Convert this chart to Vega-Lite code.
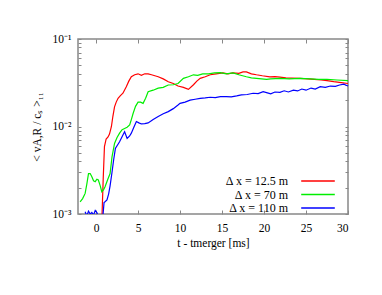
{
  "$schema": "https://vega.github.io/schema/vega-lite/v6.json",
  "autosize": "none",
  "width": 270,
  "height": 175,
  "padding": {"left": 78, "top": 39, "right": 34, "bottom": 81},
  "background": "white",
  "config": {
    "font": "Liberation Serif",
    "view": {"stroke": "#888888", "strokeWidth": 1.5},
    "axis": {"domain": false, "grid": false, "tickColor": "#888888", "labelFont": "serif", "titleFont": "serif", "labelFontSize": 11.5, "titleFontSize": 11.5, "titleFontWeight": "normal", "labelColor": "#000000", "titleColor": "#000000"}
  },
  "data": {"values": [
    {"s": "Δ x = 12.5 m", "t": 0.7, "v": 0.0009},
    {"s": "Δ x = 12.5 m", "t": 0.85, "v": 0.0025},
    {"s": "Δ x = 12.5 m", "t": 1.0, "v": 0.0059},
    {"s": "Δ x = 12.5 m", "t": 1.2, "v": 0.0072},
    {"s": "Δ x = 12.5 m", "t": 1.43, "v": 0.0076},
    {"s": "Δ x = 12.5 m", "t": 1.6, "v": 0.0082},
    {"s": "Δ x = 12.5 m", "t": 1.83, "v": 0.010},
    {"s": "Δ x = 12.5 m", "t": 2.0, "v": 0.013},
    {"s": "Δ x = 12.5 m", "t": 2.2, "v": 0.0168},
    {"s": "Δ x = 12.5 m", "t": 2.4, "v": 0.019},
    {"s": "Δ x = 12.5 m", "t": 2.62, "v": 0.021},
    {"s": "Δ x = 12.5 m", "t": 2.9, "v": 0.0225},
    {"s": "Δ x = 12.5 m", "t": 3.2, "v": 0.024},
    {"s": "Δ x = 12.5 m", "t": 3.6, "v": 0.0285},
    {"s": "Δ x = 12.5 m", "t": 3.9, "v": 0.033},
    {"s": "Δ x = 12.5 m", "t": 4.2, "v": 0.037},
    {"s": "Δ x = 12.5 m", "t": 4.6, "v": 0.039},
    {"s": "Δ x = 12.5 m", "t": 5.0, "v": 0.040},
    {"s": "Δ x = 12.5 m", "t": 5.4, "v": 0.0385},
    {"s": "Δ x = 12.5 m", "t": 5.8, "v": 0.040},
    {"s": "Δ x = 12.5 m", "t": 6.2, "v": 0.040},
    {"s": "Δ x = 12.5 m", "t": 6.6, "v": 0.039},
    {"s": "Δ x = 12.5 m", "t": 7.0, "v": 0.038},
    {"s": "Δ x = 12.5 m", "t": 7.4, "v": 0.037},
    {"s": "Δ x = 12.5 m", "t": 8.0, "v": 0.035},
    {"s": "Δ x = 12.5 m", "t": 8.6, "v": 0.0325},
    {"s": "Δ x = 12.5 m", "t": 9.2, "v": 0.031},
    {"s": "Δ x = 12.5 m", "t": 9.76, "v": 0.029},
    {"s": "Δ x = 12.5 m", "t": 10.4, "v": 0.028},
    {"s": "Δ x = 12.5 m", "t": 11.0, "v": 0.0266},
    {"s": "Δ x = 12.5 m", "t": 11.6, "v": 0.030},
    {"s": "Δ x = 12.5 m", "t": 12.0, "v": 0.033},
    {"s": "Δ x = 12.5 m", "t": 12.4, "v": 0.0355},
    {"s": "Δ x = 12.5 m", "t": 13.0, "v": 0.037},
    {"s": "Δ x = 12.5 m", "t": 13.6, "v": 0.039},
    {"s": "Δ x = 12.5 m", "t": 14.3, "v": 0.040},
    {"s": "Δ x = 12.5 m", "t": 15.1, "v": 0.041},
    {"s": "Δ x = 12.5 m", "t": 15.7, "v": 0.040},
    {"s": "Δ x = 12.5 m", "t": 16.3, "v": 0.041},
    {"s": "Δ x = 12.5 m", "t": 17.0, "v": 0.0405},
    {"s": "Δ x = 12.5 m", "t": 17.5, "v": 0.042},
    {"s": "Δ x = 12.5 m", "t": 17.9, "v": 0.042},
    {"s": "Δ x = 12.5 m", "t": 18.5, "v": 0.040},
    {"s": "Δ x = 12.5 m", "t": 19.1, "v": 0.039},
    {"s": "Δ x = 12.5 m", "t": 19.8, "v": 0.038},
    {"s": "Δ x = 12.5 m", "t": 20.7, "v": 0.037},
    {"s": "Δ x = 12.5 m", "t": 21.3, "v": 0.0372},
    {"s": "Δ x = 12.5 m", "t": 21.9, "v": 0.0366},
    {"s": "Δ x = 12.5 m", "t": 22.6, "v": 0.036},
    {"s": "Δ x = 12.5 m", "t": 23.3, "v": 0.0358},
    {"s": "Δ x = 12.5 m", "t": 24.3, "v": 0.0355},
    {"s": "Δ x = 12.5 m", "t": 25.2, "v": 0.035},
    {"s": "Δ x = 12.5 m", "t": 26.0, "v": 0.0345},
    {"s": "Δ x = 12.5 m", "t": 26.8, "v": 0.034},
    {"s": "Δ x = 12.5 m", "t": 27.5, "v": 0.0334},
    {"s": "Δ x = 12.5 m", "t": 28.3, "v": 0.0325},
    {"s": "Δ x = 12.5 m", "t": 29.2, "v": 0.0318},
    {"s": "Δ x = 12.5 m", "t": 30.0, "v": 0.031},

    {"s": "Δ x = 70 m", "t": -1.9, "v": 0.00138},
    {"s": "Δ x = 70 m", "t": -1.6, "v": 0.0015},
    {"s": "Δ x = 70 m", "t": -1.3, "v": 0.00172},
    {"s": "Δ x = 70 m", "t": -1.1, "v": 0.0022},
    {"s": "Δ x = 70 m", "t": -0.9, "v": 0.0029},
    {"s": "Δ x = 70 m", "t": -0.7, "v": 0.0029},
    {"s": "Δ x = 70 m", "t": -0.5, "v": 0.00267},
    {"s": "Δ x = 70 m", "t": -0.3, "v": 0.0024},
    {"s": "Δ x = 70 m", "t": -0.1, "v": 0.00234},
    {"s": "Δ x = 70 m", "t": 0.1, "v": 0.0025},
    {"s": "Δ x = 70 m", "t": 0.27, "v": 0.00245},
    {"s": "Δ x = 70 m", "t": 0.5, "v": 0.0021},
    {"s": "Δ x = 70 m", "t": 0.68, "v": 0.0018},
    {"s": "Δ x = 70 m", "t": 0.9, "v": 0.0019},
    {"s": "Δ x = 70 m", "t": 1.07, "v": 0.00205},
    {"s": "Δ x = 70 m", "t": 1.4, "v": 0.0025},
    {"s": "Δ x = 70 m", "t": 1.67, "v": 0.0029},
    {"s": "Δ x = 70 m", "t": 1.9, "v": 0.0045},
    {"s": "Δ x = 70 m", "t": 2.2, "v": 0.0064},
    {"s": "Δ x = 70 m", "t": 2.5, "v": 0.0075},
    {"s": "Δ x = 70 m", "t": 2.8, "v": 0.0084},
    {"s": "Δ x = 70 m", "t": 3.1, "v": 0.0092},
    {"s": "Δ x = 70 m", "t": 3.4, "v": 0.0095},
    {"s": "Δ x = 70 m", "t": 3.7, "v": 0.0098},
    {"s": "Δ x = 70 m", "t": 4.0, "v": 0.0104},
    {"s": "Δ x = 70 m", "t": 4.2, "v": 0.012},
    {"s": "Δ x = 70 m", "t": 4.4, "v": 0.014},
    {"s": "Δ x = 70 m", "t": 4.7, "v": 0.017},
    {"s": "Δ x = 70 m", "t": 5.0, "v": 0.019},
    {"s": "Δ x = 70 m", "t": 5.3, "v": 0.019},
    {"s": "Δ x = 70 m", "t": 5.6, "v": 0.0184},
    {"s": "Δ x = 70 m", "t": 5.9, "v": 0.021},
    {"s": "Δ x = 70 m", "t": 6.2, "v": 0.025},
    {"s": "Δ x = 70 m", "t": 6.8, "v": 0.026},
    {"s": "Δ x = 70 m", "t": 7.4, "v": 0.0274},
    {"s": "Δ x = 70 m", "t": 8.0, "v": 0.028},
    {"s": "Δ x = 70 m", "t": 8.6, "v": 0.0298},
    {"s": "Δ x = 70 m", "t": 9.2, "v": 0.030},
    {"s": "Δ x = 70 m", "t": 9.76, "v": 0.031},
    {"s": "Δ x = 70 m", "t": 10.4, "v": 0.0355},
    {"s": "Δ x = 70 m", "t": 11.0, "v": 0.037},
    {"s": "Δ x = 70 m", "t": 11.6, "v": 0.039},
    {"s": "Δ x = 70 m", "t": 12.1, "v": 0.0385},
    {"s": "Δ x = 70 m", "t": 12.7, "v": 0.040},
    {"s": "Δ x = 70 m", "t": 13.4, "v": 0.040},
    {"s": "Δ x = 70 m", "t": 14.1, "v": 0.041},
    {"s": "Δ x = 70 m", "t": 14.8, "v": 0.0412},
    {"s": "Δ x = 70 m", "t": 15.5, "v": 0.040},
    {"s": "Δ x = 70 m", "t": 16.3, "v": 0.041},
    {"s": "Δ x = 70 m", "t": 17.0, "v": 0.039},
    {"s": "Δ x = 70 m", "t": 17.9, "v": 0.037},
    {"s": "Δ x = 70 m", "t": 18.5, "v": 0.036},
    {"s": "Δ x = 70 m", "t": 19.1, "v": 0.0355},
    {"s": "Δ x = 70 m", "t": 20.3, "v": 0.0345},
    {"s": "Δ x = 70 m", "t": 20.8, "v": 0.035},
    {"s": "Δ x = 70 m", "t": 21.9, "v": 0.0355},
    {"s": "Δ x = 70 m", "t": 23.0, "v": 0.035},
    {"s": "Δ x = 70 m", "t": 24.3, "v": 0.0355},
    {"s": "Δ x = 70 m", "t": 25.5, "v": 0.035},
    {"s": "Δ x = 70 m", "t": 26.5, "v": 0.0345},
    {"s": "Δ x = 70 m", "t": 27.5, "v": 0.0345},
    {"s": "Δ x = 70 m", "t": 28.7, "v": 0.034},
    {"s": "Δ x = 70 m", "t": 30.0, "v": 0.0334},

    {"s": "Δ x = 110 m", "t": -1.3, "v": 0.00106},
    {"s": "Δ x = 110 m", "t": -1.1, "v": 0.00095},
    {"s": "Δ x = 110 m", "t": -0.9, "v": 0.00108},
    {"s": "Δ x = 110 m", "t": -0.7, "v": 0.001},
    {"s": "Δ x = 110 m", "t": -0.5, "v": 0.00104},
    {"s": "Δ x = 110 m", "t": -0.3, "v": 0.00097},
    {"s": "Δ x = 110 m", "t": -0.1, "v": 0.0011},
    {"s": "Δ x = 110 m", "t": 0.1, "v": 0.00104},
    {"s": "Δ x = 110 m", "t": 0.3, "v": 0.0009},
    {"s": "Δ x = 110 m", "t": 0.5, "v": 0.0008},
    {"s": "Δ x = 110 m", "t": 0.8, "v": 0.0009},
    {"s": "Δ x = 110 m", "t": 0.95, "v": 0.00135},
    {"s": "Δ x = 110 m", "t": 1.07, "v": 0.00138},
    {"s": "Δ x = 110 m", "t": 1.3, "v": 0.00145},
    {"s": "Δ x = 110 m", "t": 1.5, "v": 0.0017},
    {"s": "Δ x = 110 m", "t": 1.67, "v": 0.0021},
    {"s": "Δ x = 110 m", "t": 1.9, "v": 0.003},
    {"s": "Δ x = 110 m", "t": 2.1, "v": 0.0042},
    {"s": "Δ x = 110 m", "t": 2.3, "v": 0.0056},
    {"s": "Δ x = 110 m", "t": 2.8, "v": 0.0067},
    {"s": "Δ x = 110 m", "t": 3.2, "v": 0.008},
    {"s": "Δ x = 110 m", "t": 3.4, "v": 0.0087},
    {"s": "Δ x = 110 m", "t": 3.7, "v": 0.0073},
    {"s": "Δ x = 110 m", "t": 4.0, "v": 0.0078},
    {"s": "Δ x = 110 m", "t": 4.2, "v": 0.0084},
    {"s": "Δ x = 110 m", "t": 4.5, "v": 0.0098},
    {"s": "Δ x = 110 m", "t": 4.8, "v": 0.0114},
    {"s": "Δ x = 110 m", "t": 5.1, "v": 0.011},
    {"s": "Δ x = 110 m", "t": 5.4, "v": 0.0107},
    {"s": "Δ x = 110 m", "t": 5.8, "v": 0.0108},
    {"s": "Δ x = 110 m", "t": 6.2, "v": 0.011},
    {"s": "Δ x = 110 m", "t": 6.8, "v": 0.012},
    {"s": "Δ x = 110 m", "t": 7.4, "v": 0.013},
    {"s": "Δ x = 110 m", "t": 8.0, "v": 0.014},
    {"s": "Δ x = 110 m", "t": 8.6, "v": 0.0148},
    {"s": "Δ x = 110 m", "t": 9.2, "v": 0.016},
    {"s": "Δ x = 110 m", "t": 9.76, "v": 0.0176},
    {"s": "Δ x = 110 m", "t": 10.0, "v": 0.0184},
    {"s": "Δ x = 110 m", "t": 10.6, "v": 0.019},
    {"s": "Δ x = 110 m", "t": 11.2, "v": 0.020},
    {"s": "Δ x = 110 m", "t": 11.8, "v": 0.0205},
    {"s": "Δ x = 110 m", "t": 12.4, "v": 0.021},
    {"s": "Δ x = 110 m", "t": 13.0, "v": 0.0212},
    {"s": "Δ x = 110 m", "t": 13.6, "v": 0.0216},
    {"s": "Δ x = 110 m", "t": 14.2, "v": 0.0214},
    {"s": "Δ x = 110 m", "t": 14.8, "v": 0.0219},
    {"s": "Δ x = 110 m", "t": 15.5, "v": 0.022},
    {"s": "Δ x = 110 m", "t": 16.1, "v": 0.0218},
    {"s": "Δ x = 110 m", "t": 16.75, "v": 0.0224},
    {"s": "Δ x = 110 m", "t": 17.3, "v": 0.023},
    {"s": "Δ x = 110 m", "t": 18.0, "v": 0.0232},
    {"s": "Δ x = 110 m", "t": 18.7, "v": 0.024},
    {"s": "Δ x = 110 m", "t": 19.3, "v": 0.0238},
    {"s": "Δ x = 110 m", "t": 19.9, "v": 0.025},
    {"s": "Δ x = 110 m", "t": 20.3, "v": 0.0244},
    {"s": "Δ x = 110 m", "t": 20.8, "v": 0.0236},
    {"s": "Δ x = 110 m", "t": 21.3, "v": 0.0248},
    {"s": "Δ x = 110 m", "t": 21.9, "v": 0.0246},
    {"s": "Δ x = 110 m", "t": 22.4, "v": 0.0256},
    {"s": "Δ x = 110 m", "t": 22.9, "v": 0.0248},
    {"s": "Δ x = 110 m", "t": 23.5, "v": 0.026},
    {"s": "Δ x = 110 m", "t": 24.0, "v": 0.0255},
    {"s": "Δ x = 110 m", "t": 24.5, "v": 0.0268},
    {"s": "Δ x = 110 m", "t": 25.0, "v": 0.026},
    {"s": "Δ x = 110 m", "t": 25.6, "v": 0.0275},
    {"s": "Δ x = 110 m", "t": 26.1, "v": 0.0268},
    {"s": "Δ x = 110 m", "t": 26.7, "v": 0.0285},
    {"s": "Δ x = 110 m", "t": 27.3, "v": 0.028},
    {"s": "Δ x = 110 m", "t": 27.9, "v": 0.029},
    {"s": "Δ x = 110 m", "t": 28.5, "v": 0.0288},
    {"s": "Δ x = 110 m", "t": 29.0, "v": 0.0298},
    {"s": "Δ x = 110 m", "t": 29.5, "v": 0.0305},
    {"s": "Δ x = 110 m", "t": 30.0, "v": 0.029}
  ]},
  "layer": [
    {
      "mark": {"type": "line", "clip": true, "strokeWidth": 1.2},
      "encoding": {
        "x": {"field": "t", "type": "quantitative",
              "scale": {"domain": [-2.15, 30], "nice": false, "zero": false},
              "axis": {"orient": "bottom", "values": [0, 5, 10, 15, 20, 25, 30], "tickSize": -4, "labelPadding": 12, "title": "t - tmerger [ms]", "titlePadding": 4}},
        "y": {"field": "v", "type": "quantitative",
              "scale": {"type": "log", "domain": [0.001, 0.1], "nice": false},
              "axis": {"orient": "left",
                       "values": [0.001, 0.002, 0.003, 0.004, 0.005, 0.006, 0.007, 0.008, 0.009, 0.01, 0.02, 0.03, 0.04, 0.05, 0.06, 0.07, 0.08, 0.09, 0.1],
                       "tickSize": -3,
                       "labelExpr": "datum.value > 0.095 ? '10⁻¹' : (abs(datum.value - 0.01) < 0.0005 ? '10⁻²' : (datum.value < 0.0011 ? '10⁻³' : ''))",
                       "labelPadding": 10,
                       "title": "< vA,R / cₛ >₁₁",
                       "titlePadding": 10}},
        "color": {"field": "s", "type": "nominal",
                  "scale": {"domain": ["Δ x = 12.5 m", "Δ x = 70 m", "Δ x = 110 m"], "range": ["#ff0000", "#00ee00", "#0000ff"]},
                  "legend": {"orient": "none", "legendX": 233, "legendY": 135, "title": null,
                             "symbolType": "M-2.8,0H2.8", "symbolSize": 144, "symbolStrokeWidth": 1.5, "symbolFillColor": "transparent",
                             "rowPadding": 0.5,
                             "labelAlign": "right", "labelOffset": -37,
                             "labelFont": "Liberation Serif", "labelFontSize": 12, "labelColor": "#000000"}}
      }
    },
    {
      "mark": {"type": "line", "opacity": 0, "clip": true},
      "encoding": {
        "x": {"field": "t", "type": "quantitative",
              "axis": {"orient": "top", "values": [0, 5, 10, 15, 20, 25, 30], "tickSize": -4, "labels": false, "title": null}},
        "y": {"field": "v", "type": "quantitative",
              "axis": {"orient": "right",
                       "values": [0.001, 0.002, 0.003, 0.004, 0.005, 0.006, 0.007, 0.008, 0.009, 0.01, 0.02, 0.03, 0.04, 0.05, 0.06, 0.07, 0.08, 0.09, 0.1],
                       "tickSize": -3, "labels": false, "title": null}},
        "detail": {"field": "s", "type": "nominal"}
      }
    }
  ],
  "resolve": {"axis": {"x": "independent", "y": "independent"}}
}
